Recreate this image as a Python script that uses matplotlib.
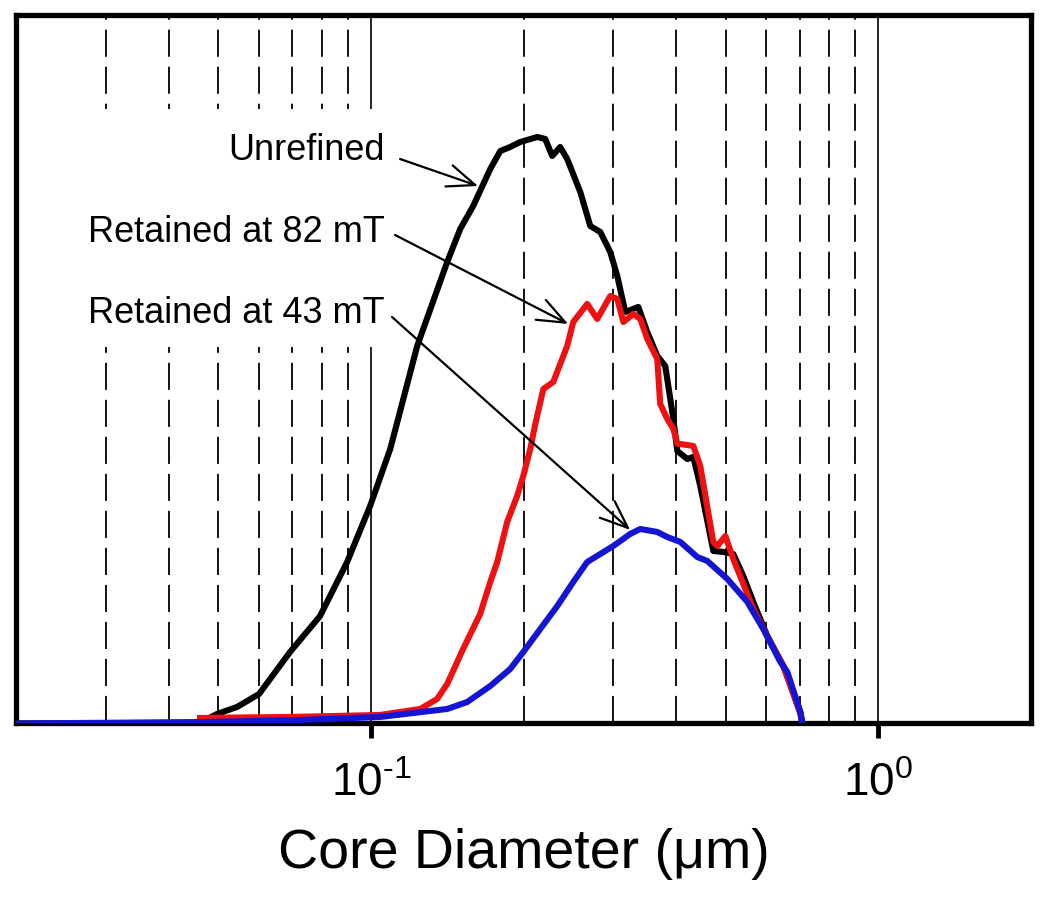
import math
import matplotlib
matplotlib.use('Agg')
import matplotlib.pyplot as plt
from matplotlib.patches import Rectangle
from matplotlib.ticker import LogLocator, NullFormatter, FuncFormatter

# particle size distributions (y in arbitrary units, axis top = 100)
unrefined_d = [0.02, 0.04602, 0.0497, 0.05442, 0.06015, 0.06924, 0.07934, 0.08972, 0.09959,
               0.1091, 0.1233, 0.1413, 0.1499, 0.159, 0.1718, 0.1798, 0.1881, 0.1968, 0.2127,
               0.2205, 0.2276, 0.236, 0.2436, 0.2585, 0.2705, 0.2831, 0.2962, 0.3058, 0.3171,
               0.3364, 0.3504, 0.3666, 0.3802, 0.3944, 0.4016, 0.4203, 0.4319, 0.4457, 0.4729,
               0.4949, 0.5178, 0.5418, 0.5669, 0.6042, 0.6499, 0.702, 0.7084]
unrefined_y = [0, 0.1, 1.34, 2.33, 4.16, 10.09, 15.17, 22.79, 30.7,
               38.74, 53.28, 65.14, 69.8, 73.04, 78.26, 80.8, 81.37, 82.07, 82.78,
               82.5, 80.1, 81.37, 79.68, 75.02, 70.22, 69.37, 66.55, 63.16, 58.08,
               58.79, 55.26, 51.87, 50.46, 42.98, 38.46, 37.33, 37.61, 33.52, 24.35,
               24.21, 23.92, 20.82, 17.15, 12.35, 8.12, 1.62, 0]

mt82_d = [0.04602, 0.06924, 0.1042, 0.125, 0.135, 0.1413, 0.1519, 0.1641, 0.1718, 0.1773,
          0.1855, 0.1941, 0.1996, 0.206, 0.2108, 0.2186, 0.2287, 0.2436, 0.2504, 0.2668,
          0.2792, 0.2962, 0.3058, 0.3144, 0.3289, 0.3395, 0.3504, 0.3666, 0.3716, 0.3837,
          0.3944, 0.4016, 0.4203, 0.4319, 0.4457, 0.4729, 0.4816, 0.4994, 0.5178, 0.5669,
          0.6042, 0.6499, 0.702, 0.7084]
mt82_y = [0.78, 0.92, 1.2, 2.05, 3.46, 5.58, 10.52, 15.46, 19.97, 22.79,
          28.44, 32.11, 34.93, 38.74, 42.27, 47.21, 48.2, 53.28, 56.67, 59.21,
          57.09, 60.34, 59.92, 56.67, 57.8, 57.09, 54.27, 51.45, 45.1, 42.98,
          41.6, 39.5, 39.3, 39.17, 36.34, 25.62, 25.05, 26.46, 23.22, 16.16,
          12.35, 8.12, 1.34, 0]

mt43_d = [0.02, 0.04602, 0.07248, 0.1042, 0.1413, 0.1547, 0.1718, 0.1881, 0.1996, 0.2156,
          0.2329, 0.2504, 0.2668, 0.2831, 0.3003, 0.3243, 0.3395, 0.3666, 0.3837, 0.4071,
          0.4396, 0.4601, 0.5039, 0.5519, 0.5932, 0.6411, 0.6617, 0.702, 0.7084]
mt43_y = [0, 0.2, 0.49, 0.92, 2.05, 3.03, 5.29, 7.69, 10.09, 13.34,
          16.58, 19.97, 22.79, 23.92, 25.05, 26.75, 27.45, 27.03, 26.32, 25.62,
          23.5, 22.94, 20.4, 17.15, 13.34, 8.68, 7.27, 1.62, 0]

labels = ['Unrefined', 'Retained at 82 mT', 'Retained at 43 mT']
label_pos = [(0.1066, 79.67), (0.1066, 68.10), (0.1066, 56.67)]
arrow_from = [(0.1141, 79.67), (0.1115, 68.95), (0.11, 57.37)]
arrow_to = [(0.1626, 75.86), (0.2447, 56.39), (0.3243, 27.31)]

plt.rcParams['font.family'] = ['Liberation Sans', 'DejaVu Sans']
plt.rcParams['mathtext.fontset'] = 'custom'
plt.rcParams['mathtext.rm'] = 'Liberation Sans'
plt.rcParams['mathtext.it'] = 'Liberation Sans:italic'
plt.rcParams['mathtext.bf'] = 'Liberation Sans:bold'

fig = plt.figure(figsize=(10.5, 9.03), dpi=100)
ax = fig.add_axes([0.0157, 0.1977, 0.9662, 0.7846])

ax.set_xscale('log')
ax.set_xlim(0.02, 2.0)
ax.set_ylim(0, 100)
ax.set_yticks([])

def decade_label(v, pos):
    e = round(math.log10(v))
    sign = '\u2010' if e < 0 else ''
    return '10$^{\\mathregular{%s%d}}$' % (sign, abs(e))

ax.xaxis.set_major_formatter(FuncFormatter(decade_label))
ax.xaxis.set_minor_locator(LogLocator(base=10, subs=range(2, 10)))
ax.xaxis.set_minor_formatter(NullFormatter())
ax.tick_params(axis='x', which='major', direction='out', length=11, width=3.5,
               labelsize=33, pad=16)
ax.tick_params(axis='x', which='minor', length=0)

ax.grid(True, which='major', axis='x', color='k', lw=1.2, ls='-')
ax.grid(True, which='minor', axis='x', color='k', lw=1.3, ls=(0, (15, 5.5)))

for s in ax.spines.values():
    s.set_linewidth(3.8)

# white patch behind the labels hides the grid there
ax.add_patch(Rectangle((0.02, 53.1), 0.1115 - 0.02, 86.7 - 53.1, facecolor='white',
                       edgecolor='none', zorder=1.8))

ax.plot(unrefined_d, unrefined_y, color='black', lw=4.4, zorder=3, solid_joinstyle='round')
ax.plot(mt82_d, mt82_y, color='#ee1111', lw=4.4, zorder=4, solid_joinstyle='round')
ax.plot(mt43_d, mt43_y, color='#1414d2', lw=4.4, zorder=5, solid_joinstyle='round')

for lab, p, a, b in zip(labels, label_pos, arrow_from, arrow_to):
    ax.text(p[0], p[1], lab, ha='right', va='baseline', fontsize=26, zorder=6)
    ax.annotate('', xy=b, xytext=a,
                arrowprops=dict(arrowstyle='->,head_length=1.0,head_width=0.4',
                                lw=1.6, color='k', shrinkA=0, shrinkB=0,
                                mutation_scale=20), zorder=6)

ax.set_xlabel('Core Diameter (\u03bcm)', fontsize=40, labelpad=16)

fig.savefig('out.png', dpi=100)
